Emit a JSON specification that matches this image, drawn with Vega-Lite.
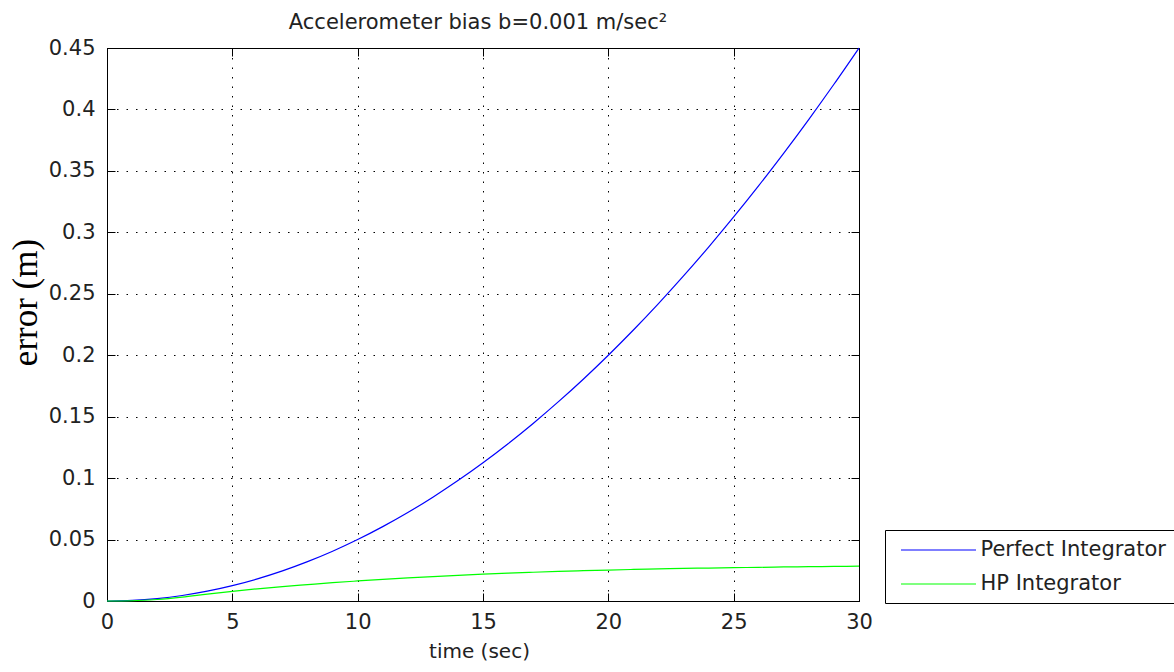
{
  "$schema": "https://vega.github.io/schema/vega-lite/v6.json",
  "width": 752,
  "height": 553,
  "autosize": "none",
  "padding": {"left": 107, "top": 48, "right": 315, "bottom": 71},
  "background": "white",
  "title": {
    "text": "Accelerometer bias b=0.001 m/sec²",
    "font": "DejaVu Sans",
    "fontSize": 21,
    "fontWeight": "normal",
    "color": "#222222",
    "baseline": "bottom",
    "offset": 13,
    "dy": 30,
    "anchor": "middle",
    "dx": -5
  },
  "data": {
    "values": [
      {"t": 0, "e": 0, "s": "Perfect Integrator"},
      {"t": 1, "e": 0.0005, "s": "Perfect Integrator"},
      {"t": 2, "e": 0.002, "s": "Perfect Integrator"},
      {"t": 3, "e": 0.0045, "s": "Perfect Integrator"},
      {"t": 4, "e": 0.008, "s": "Perfect Integrator"},
      {"t": 5, "e": 0.0125, "s": "Perfect Integrator"},
      {"t": 6, "e": 0.018, "s": "Perfect Integrator"},
      {"t": 7, "e": 0.0245, "s": "Perfect Integrator"},
      {"t": 8, "e": 0.032, "s": "Perfect Integrator"},
      {"t": 9, "e": 0.0405, "s": "Perfect Integrator"},
      {"t": 10, "e": 0.05, "s": "Perfect Integrator"},
      {"t": 11, "e": 0.0605, "s": "Perfect Integrator"},
      {"t": 12, "e": 0.072, "s": "Perfect Integrator"},
      {"t": 13, "e": 0.0845, "s": "Perfect Integrator"},
      {"t": 14, "e": 0.098, "s": "Perfect Integrator"},
      {"t": 15, "e": 0.1125, "s": "Perfect Integrator"},
      {"t": 16, "e": 0.128, "s": "Perfect Integrator"},
      {"t": 17, "e": 0.1445, "s": "Perfect Integrator"},
      {"t": 18, "e": 0.162, "s": "Perfect Integrator"},
      {"t": 19, "e": 0.1805, "s": "Perfect Integrator"},
      {"t": 20, "e": 0.2, "s": "Perfect Integrator"},
      {"t": 21, "e": 0.2205, "s": "Perfect Integrator"},
      {"t": 22, "e": 0.242, "s": "Perfect Integrator"},
      {"t": 23, "e": 0.2645, "s": "Perfect Integrator"},
      {"t": 24, "e": 0.288, "s": "Perfect Integrator"},
      {"t": 25, "e": 0.3125, "s": "Perfect Integrator"},
      {"t": 26, "e": 0.338, "s": "Perfect Integrator"},
      {"t": 27, "e": 0.3645, "s": "Perfect Integrator"},
      {"t": 28, "e": 0.392, "s": "Perfect Integrator"},
      {"t": 29, "e": 0.4205, "s": "Perfect Integrator"},
      {"t": 30, "e": 0.45, "s": "Perfect Integrator"},
      {"t": 0, "e": 0, "s": "HP Integrator"},
      {"t": 1, "e": 0.0002, "s": "HP Integrator"},
      {"t": 2, "e": 0.0012, "s": "HP Integrator"},
      {"t": 3, "e": 0.0031, "s": "HP Integrator"},
      {"t": 4, "e": 0.0056, "s": "HP Integrator"},
      {"t": 5, "e": 0.0079, "s": "HP Integrator"},
      {"t": 6, "e": 0.0099, "s": "HP Integrator"},
      {"t": 7, "e": 0.0117, "s": "HP Integrator"},
      {"t": 8, "e": 0.0133, "s": "HP Integrator"},
      {"t": 9, "e": 0.0149, "s": "HP Integrator"},
      {"t": 10, "e": 0.0163, "s": "HP Integrator"},
      {"t": 11, "e": 0.0176, "s": "HP Integrator"},
      {"t": 12, "e": 0.0188, "s": "HP Integrator"},
      {"t": 13, "e": 0.0199, "s": "HP Integrator"},
      {"t": 14, "e": 0.0209, "s": "HP Integrator"},
      {"t": 15, "e": 0.0218, "s": "HP Integrator"},
      {"t": 16, "e": 0.0227, "s": "HP Integrator"},
      {"t": 17, "e": 0.0234, "s": "HP Integrator"},
      {"t": 18, "e": 0.0241, "s": "HP Integrator"},
      {"t": 19, "e": 0.0247, "s": "HP Integrator"},
      {"t": 20, "e": 0.0252, "s": "HP Integrator"},
      {"t": 21, "e": 0.0257, "s": "HP Integrator"},
      {"t": 22, "e": 0.0261, "s": "HP Integrator"},
      {"t": 23, "e": 0.0265, "s": "HP Integrator"},
      {"t": 24, "e": 0.0268, "s": "HP Integrator"},
      {"t": 25, "e": 0.0271, "s": "HP Integrator"},
      {"t": 26, "e": 0.0274, "s": "HP Integrator"},
      {"t": 27, "e": 0.0277, "s": "HP Integrator"},
      {"t": 28, "e": 0.0279, "s": "HP Integrator"},
      {"t": 29, "e": 0.0281, "s": "HP Integrator"},
      {"t": 30, "e": 0.0283, "s": "HP Integrator"}
    ]
  },
  "layer": [
    {
      "transform": [{"filter": "datum.s === 'Perfect Integrator'"}],
      "mark": {"type": "line", "strokeWidth": 1.2, "interpolate": "monotone"},
      "encoding": {
        "x": {
          "field": "t", "type": "quantitative",
          "scale": {"domain": [0, 30], "nice": false},
          "axis": {
            "orient": "bottom",
            "values": [0, 5, 10, 15, 20, 25, 30],
            "title": "time (sec)",
            "titleX": 372,
            "titleY": 56,
            "titleBaseline": "alphabetic",
            "titleAlign": "center",
            "grid": true,
            "labelBaseline": "top",
            "labelFlush": false
          }
        },
        "y": {
          "field": "e", "type": "quantitative",
          "scale": {"domain": [0, 0.45], "nice": false},
          "axis": {
            "orient": "left",
            "values": [0, 0.05, 0.1, 0.15, 0.2, 0.25, 0.3, 0.35, 0.4, 0.45],
            "format": ".2~f",
            "title": "error (m)",
            "titleFont": "Liberation Serif",
            "titleFontSize": 35,
            "titleColor": "#000000",
            "titleX": -82,
            "titleY": 254,
            "titleAngle": -90,
            "titleBaseline": "middle",
            "titleAlign": "center",
            "grid": true,
            "labelBaseline": "middle",
            "labelFlush": false,
            "labelPadding": 20
          }
        },
        "color": {
          "field": "s", "type": "nominal",
          "scale": {"domain": ["Perfect Integrator", "HP Integrator"], "range": ["#0000FF", "#00FF00"]},
          "legend": {"title": null}
        }
      }
    },
    {
      "transform": [{"filter": "datum.s === 'HP Integrator'"}],
      "mark": {"type": "line", "strokeWidth": 1.2, "interpolate": "monotone"},
      "encoding": {
        "x": {
          "field": "t", "type": "quantitative",
          "scale": {"domain": [0, 30], "nice": false},
          "axis": {
            "orient": "top",
            "values": [0, 5, 10, 15, 20, 25, 30],
            "title": null,
            "labels": false,
            "grid": false
          }
        },
        "y": {
          "field": "e", "type": "quantitative",
          "scale": {"domain": [0, 0.45], "nice": false},
          "axis": {
            "orient": "right",
            "values": [0, 0.05, 0.1, 0.15, 0.2, 0.25, 0.3, 0.35, 0.4, 0.45],
            "title": null,
            "labels": false,
            "grid": false
          }
        },
        "color": {
          "field": "s", "type": "nominal",
          "scale": {"domain": ["Perfect Integrator", "HP Integrator"], "range": ["#0000FF", "#00FF00"]},
          "legend": {"title": null}
        }
      }
    }
  ],
  "resolve": {"axis": {"x": "independent", "y": "independent"}},
  "config": {
    "view": {"stroke": "#000000", "strokeWidth": 1},
    "axis": {
      "domainColor": "#000000",
      "domainWidth": 1,
      "tickColor": "#000000",
      "tickWidth": 1,
      "tickSize": -8,
      "labelPadding": 18,
      "labelFont": "DejaVu Sans",
      "labelFontSize": 21,
      "labelColor": "#222222",
      "titleFont": "DejaVu Sans",
      "titleFontSize": 20,
      "titleFontWeight": "normal",
      "titleColor": "#222222",
      "gridColor": "#000000",
      "gridOpacity": 1,
      "gridWidth": 1,
      "gridDash": [1.5, 8]
    },
    "legend": {
      "orient": "none",
      "legendX": 778,
      "legendY": 482,
      "strokeColor": "#000000",
      "fillColor": "#ffffff",
      "padding": 9,
      "rowPadding": 13,
      "symbolType": "M-3.75,0H3.75",
      "symbolSize": 400,
      "symbolStrokeWidth": 1.2,
      "symbolOffset": 33.5,
      "labelOffset": 31,
      "labelFont": "DejaVu Sans",
      "labelFontSize": 21,
      "labelColor": "#222222",
      "labelLimit": 400
    }
  }
}
